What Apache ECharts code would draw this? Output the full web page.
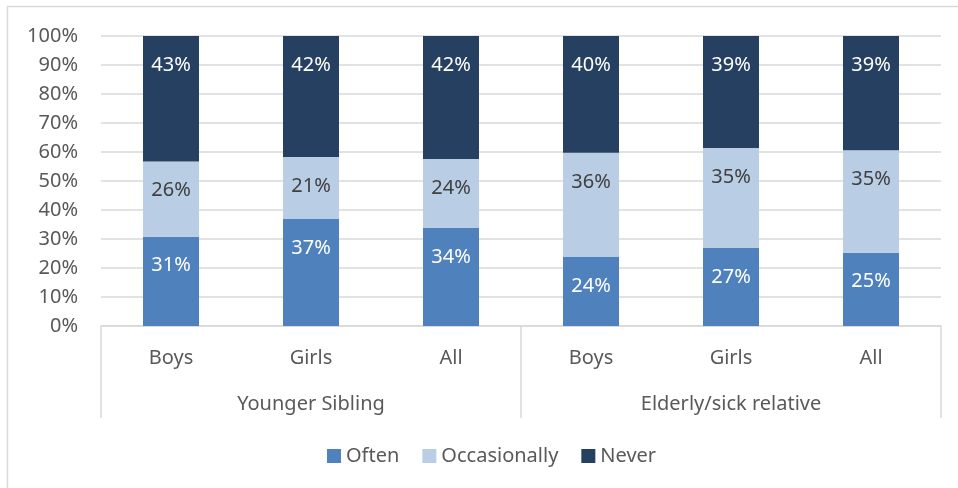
<!DOCTYPE html>
<html>
<head>
<meta charset="utf-8">
<script src="https://cdn.jsdelivr.net/npm/echarts@6/dist/echarts.min.js"></script>
<style>
html,body{margin:0;padding:0;background:#fff;}
#chart{width:958px;height:488px;}
</style>
</head>
<body>
<div id="chart"></div>
<script>
const categories = ["Boys", "Girls", "All", "Boys", "Girls", "All"];
const groups = ["Younger Sibling", "Elderly/sick relative"];
const often = [30.8, 36.9, 33.8, 23.8, 26.9, 25.3];
const occasionally = [25.9, 21.4, 23.8, 35.9, 34.5, 35.3];
const never = [43.3, 41.7, 42.4, 40.3, 38.6, 39.4];
const seriesNames = ["Often", "Occasionally", "Never"];
const yTicks = [0, 10, 20, 30, 40, 50, 60, 70, 80, 90, 100];

const FONT = "Noto Sans";
const chart = echarts.init(document.getElementById('chart'), null, {renderer: 'canvas'});

function mkSeries(name, data, color, labelColor) {
  return {
    name: name,
    type: 'bar',
    stack: 'total',
    data: data,
    barWidth: 56,
    itemStyle: {color: color},
    label: {
      show: true,
      position: 'insideTop',
      distance: 19,
      color: labelColor,
      fontFamily: FONT,
      fontSize: 20,
      lineHeight: 20,
      formatter: p => Math.round(p.value) + '%'
    },
    emphasis: {disabled: true}
  };
}

chart.setOption({
  animation: false,
  textStyle: {fontFamily: FONT},
  graphic: [{
    type: 'rect',
    shape: {x: 7.5, y: 6.5, width: 1000, height: 1000},
    style: {fill: 'none', stroke: '#d9d9d9', lineWidth: 1.5},
    silent: true
  }],
  legend: {
    data: seriesNames,
    left: 322,
    top: 441,
    icon: 'rect',
    itemWidth: 14,
    itemHeight: 14,
    itemGap: 23,
    textStyle: {color: '#595959', fontSize: 20, fontFamily: FONT, lineHeight: 20, padding: [0, 0, 0, 0]}
  },
  grid: {left: 101, right: 17, top: 36, bottom: 162, containLabel: false},
  xAxis: [{
    type: 'category',
    data: categories,
    axisLine: {show: true, lineStyle: {color: '#d9d9d9', width: 1.5}},
    axisTick: {show: false},
    axisLabel: {color: '#595959', fontSize: 20, fontFamily: FONT, lineHeight: 20, margin: 22, interval: 0}
  }, {
    type: 'category',
    data: groups,
    position: 'bottom',
    axisLine: {show: false},
    axisTick: {show: true, length: 92, lineStyle: {color: '#d9d9d9', width: 1.5}},
    axisLabel: {color: '#595959', fontSize: 20, fontFamily: FONT, lineHeight: 20, margin: 68, interval: 0},
    splitLine: {show: false}
  }],
  yAxis: {
    type: 'value',
    min: yTicks[0],
    max: yTicks[yTicks.length - 1],
    interval: yTicks[1] - yTicks[0],
    axisLine: {show: false},
    axisTick: {show: false},
    splitLine: {lineStyle: {color: '#d9d9d9', width: 1.5}},
    axisLabel: {color: '#595959', fontSize: 20, fontFamily: FONT, margin: 23, formatter: '{value}%'}
  },
  series: [
    mkSeries(seriesNames[0], often, '#4f81bd', '#ffffff'),
    mkSeries(seriesNames[1], occasionally, '#b9cde5', '#404040'),
    mkSeries(seriesNames[2], never, '#254061', '#ffffff')
  ]
});
</script>
</body>
</html>
